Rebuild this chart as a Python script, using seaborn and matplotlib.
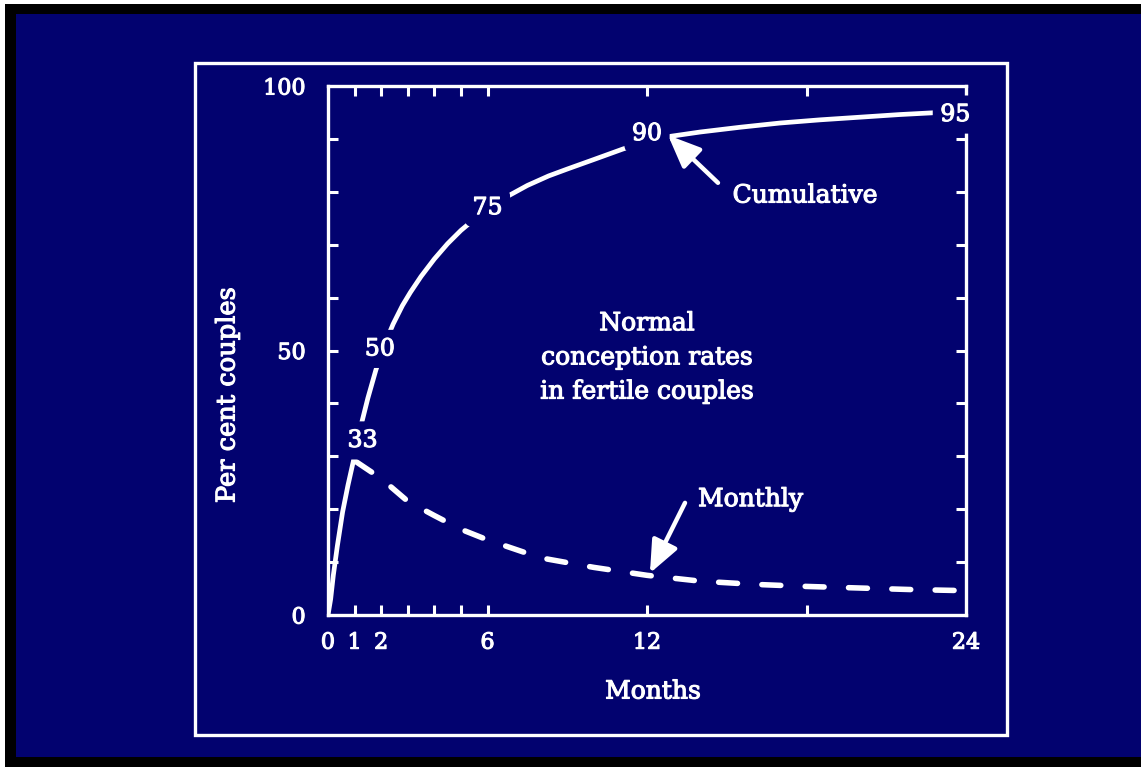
import matplotlib
matplotlib.use("Agg")
import matplotlib.pyplot as plt
import matplotlib.patheffects as pe
import seaborn as sns
from matplotlib.patches import Rectangle

# ---- data ----
cum_months = [0, 0.1, 0.2, 0.35, 0.55, 0.75, 0.95, 1.2, 1.5, 1.8, 2.1, 2.45, 2.8, 3.1, 3.5, 4.0, 4.5, 5.0, 5.5, 6.0, 6.7, 7.5, 8.3, 9.0, 10.0, 11.1, 12.0, 12.9, 14.0, 15.5, 17.0, 18.5, 20.0, 21.5, 23.0, 24.0]
cum_values = [0, 3, 7.5, 13, 19.5, 24.5, 29, 35, 41, 46.3, 50.8, 55, 58.5, 61, 64, 67.3, 70.2, 72.7, 74.8, 76.6, 79, 81.2, 83, 84.3, 86.1, 88.1, 89.5, 90.5, 91.3, 92.2, 93.0, 93.6, 94.1, 94.6, 95.0, 95.2]

monthly_months = [1.05, 2, 3, 4, 5, 6, 8, 10, 12, 14, 16, 18, 20, 22, 24]
monthly_values = [29, 25.8, 21.5, 18.8, 16.2, 14.2, 10.8, 9.0, 7.5, 6.4, 5.8, 5.4, 5.1, 4.8, 4.6]

point_labels = ["33", "50", "75", "90", "95"]
point_label_x = [1.3, 1.95, 6.0, 12.0, 23.6]
point_label_y = [33, 50.3, 77, 91, 94.6]

x_tick_values = [0, 1, 2, 6, 12, 24]
x_tick_labels = ["0", "1", "2", "6", "12", "24"]
x_minor_ticks = [1, 2, 3, 4, 5, 6, 12, 18]
y_tick_values = [0, 50, 100]
y_tick_labels = ["0", "50", "100"]
y_minor_ticks = [10, 20, 30, 40, 50, 60, 70, 80, 90]

title_lines = "Normal\nconception rates\nin fertile couples"
x_title = "Months"
y_title = "Per cent couples"
cum_name = "Cumulative"
monthly_name = "Monthly"

# ---- styling ----
NAVY = "#02026f"
WHITE = "white"
FONT = "DejaVu Serif"
BOLDER = [pe.withStroke(linewidth=0.8, foreground=WHITE)]

sns.set_style("dark")
plt.rcParams["font.family"] = [FONT, "DejaVu Sans"]

W, H = 1141, 767
fig = plt.figure(figsize=(W / 100, H / 100), dpi=100)
fig.patch.set_facecolor("white")

def px_rect(x0, y0, x1, y1, **kw):
    r = Rectangle((x0 / W, 1 - y1 / H), (x1 - x0) / W, (y1 - y0) / H,
                  transform=fig.transFigure, **kw)
    fig.patches.append(r)

px_rect(5, 4, W + 5, H + 5, facecolor="black", edgecolor="none", zorder=-10)
px_rect(16, 14, W + 5, 757, facecolor=NAVY, edgecolor="none", zorder=-9)
px_rect(195, 63, 1007, 735, facecolor="none", edgecolor=WHITE, lw=2.4, zorder=-5)

ax_l, ax_r, ax_t, ax_b = 328, 966, 86, 615
ax = fig.add_axes([ax_l / W, 1 - ax_b / H, (ax_r - ax_l) / W, (ax_b - ax_t) / H])
ax.set_facecolor(NAVY)

sns.lineplot(x=cum_months, y=cum_values, ax=ax, color=WHITE, lw=3.4,
             solid_capstyle="round", solid_joinstyle="round", zorder=3)
sns.lineplot(x=monthly_months, y=monthly_values, ax=ax, color=WHITE, lw=4.0,
             linestyle=(0, (3.4, 4.4)), dash_capstyle="round", zorder=3)

ax.set_xlim(0, 24)
ax.set_ylim(0, 100)
ax.grid(False)

for s in ax.spines.values():
    s.set_visible(True)
    s.set_color(WHITE)
    s.set_linewidth(2.4)

ax.xaxis.remove_overlapping_locs = False
ax.yaxis.remove_overlapping_locs = False
ax.set_xticks(x_tick_values)
ax.set_xticklabels(x_tick_labels)
ax.set_xticks(x_minor_ticks, minor=True)
ax.set_yticks(y_tick_values)
ax.set_yticklabels(y_tick_labels)
ax.set_yticks(y_minor_ticks, minor=True)

ax.tick_params(axis="x", which="major", length=0, pad=12, labelsize=16, labelcolor=WHITE)
ax.tick_params(axis="y", which="major", length=0, pad=16, labelsize=16, labelcolor=WHITE)
ax.tick_params(which="minor", direction="in", length=7, width=2.2, color=WHITE,
               top=True, bottom=True, left=True, right=True)
for lab in ax.get_xticklabels() + ax.get_yticklabels():
    lab.set_path_effects(BOLDER)

# labels on the cumulative curve (with a background box to break the line)
for t, x, y in zip(point_labels, point_label_x, point_label_y):
    ax.text(x, y, t, color=WHITE, fontsize=17, ha="center", va="center", zorder=5,
            path_effects=BOLDER,
            bbox=dict(boxstyle="round,pad=0.32", facecolor=NAVY, edgecolor="none"))

ax.text(12.0, 48.6, title_lines, color=WHITE, fontsize=18, ha="center", va="center",
        linespacing=1.62, zorder=5, path_effects=BOLDER)

arrow_style = dict(arrowstyle="-|>,head_length=0.9,head_width=0.38",
                   color=WHITE, lw=3.2, shrinkA=0, shrinkB=0, mutation_scale=22)
ax.annotate("", xy=(12.79, 90.7), xytext=(14.67, 81.7), arrowprops=arrow_style, zorder=6)
ax.text(17.95, 79.2, cum_name, color=WHITE, fontsize=18, ha="center", va="center",
        zorder=6, path_effects=BOLDER)
ax.annotate("", xy=(12.11, 7.9), xytext=(13.43, 21.2), arrowprops=arrow_style, zorder=6)
ax.text(15.9, 21.8, monthly_name, color=WHITE, fontsize=18, ha="center", va="center",
        zorder=6, path_effects=BOLDER)

fig.text(653 / W, 1 - 692 / H, x_title, color=WHITE, fontsize=18, ha="center", va="center",
         path_effects=BOLDER)
fig.text(227 / W, 1 - 395 / H, y_title, color=WHITE, fontsize=18.5, ha="center", va="center",
         rotation=90, path_effects=BOLDER)

fig.savefig("out.png", dpi=100, facecolor=fig.get_facecolor())
